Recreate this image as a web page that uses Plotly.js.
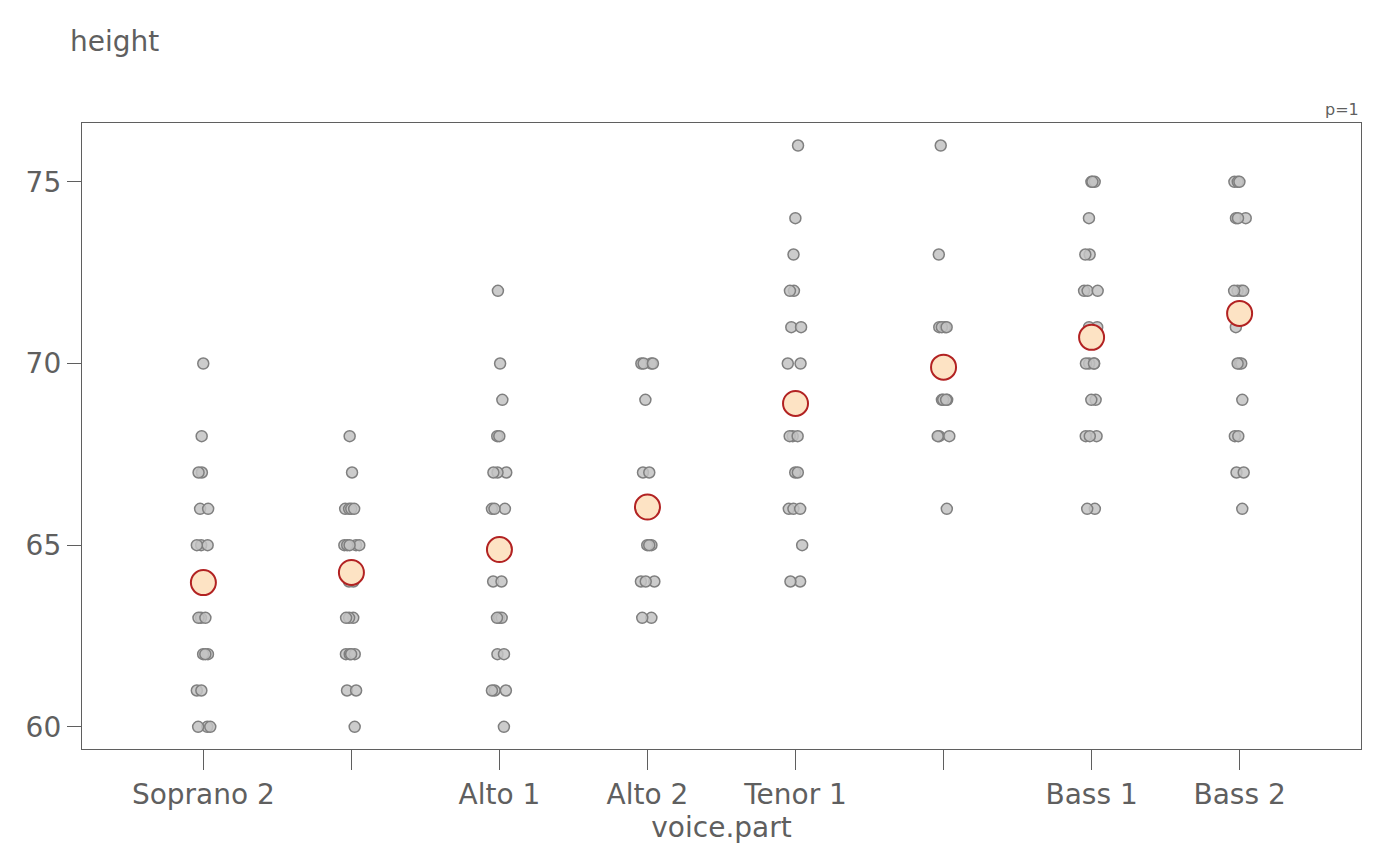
<!DOCTYPE html>
<html>
<head>
<meta charset="utf-8">
<script src="https://cdn.plot.ly/plotly-3.0.1.min.js"></script>
<style>body{margin:0;background:#fff}</style>
</head>
<body>
<div id="plot" style="width:1400px;height:866px"></div>
<script>
var groups = ['Soprano 2', 'Soprano 1', 'Alto 1', 'Alto 2', 'Tenor 1', 'Tenor 2', 'Bass 1', 'Bass 2'];
var tickLabels = ['Soprano 2', '', 'Alto 1', 'Alto 2', 'Tenor 1', '', 'Bass 1', 'Bass 2'];
var heights = [
    [70, 68, 67, 67, 66, 66, 65, 65, 65, 63, 63, 63, 62, 62, 62, 61, 61, 60, 60, 60],
    [68, 67, 66, 66, 66, 66, 65, 65, 65, 65, 65, 64, 64, 63, 63, 63, 62, 62, 62, 62, 61, 61, 60],
    [72, 70, 69, 68, 68, 67, 67, 67, 66, 66, 66, 65, 64, 64, 63, 63, 63, 62, 62, 61, 61, 61, 60],
    [70, 70, 70, 70, 69, 67, 67, 66, 65, 65, 65, 64, 64, 64, 63, 63],
    [76, 74, 73, 72, 72, 71, 71, 70, 70, 69, 68, 68, 68, 67, 67, 66, 66, 66, 65, 64, 64],
    [76, 73, 71, 71, 71, 71, 70, 69, 69, 69, 69, 68, 68, 68, 66],
    [75, 75, 75, 74, 73, 73, 72, 72, 72, 71, 71, 70, 70, 70, 70, 69, 69, 68, 68, 68, 66, 66],
    [75, 75, 75, 74, 74, 74, 72, 72, 72, 72, 71, 70, 70, 70, 69, 68, 68, 67, 67, 66]
];
var means = [63.97, 64.25, 64.88, 66.05, 68.9, 69.9, 70.72, 71.38];

var textColor = '#5f5f5f';
var traces = [];
heights.forEach(function (vals, i) {
    traces.push({
        type: 'box',
        x: vals.map(function () { return i; }),
        y: vals,
        boxpoints: 'all',
        jitter: 1,
        pointpos: 0,
        width: 0.12,
        fillcolor: 'rgba(0,0,0,0)',
        line: { width: 0, color: 'rgba(0,0,0,0)' },
        marker: { size: 11, color: 'rgba(195,195,195,0.85)', line: { color: '#7f7f7f', width: 1.5 } },
        hoverinfo: 'y',
        name: groups[i]
    });
});
traces.push({
    type: 'scatter',
    mode: 'markers',
    x: groups.map(function (g, i) { return i; }),
    y: means,
    marker: { size: 25, color: '#FDE3C4', line: { color: '#B22222', width: 2 } },
    hoverinfo: 'y'
});

var layout = {
    width: 1400,
    height: 866,
    showlegend: false,
    paper_bgcolor: '#fff',
    plot_bgcolor: '#fff',
    margin: { l: 82, r: 39, t: 123, b: 117 },
    font: { family: 'DejaVu Sans', color: textColor, size: 28 },
    xaxis: {
        range: [-0.82, 7.82],
        tickvals: groups.map(function (g, i) { return i; }),
        ticktext: tickLabels,
        ticks: 'outside', ticklen: 20, tickcolor: textColor,
        showgrid: false, zeroline: false,
        showline: true, mirror: true, linecolor: textColor, linewidth: 1.3,
        tickfont: { size: 28, color: textColor },
        title: { text: 'voice.part', font: { size: 28, color: textColor }, standoff: 0 }
    },
    yaxis: {
        range: [59.39, 76.62],
        tickvals: [60, 65, 70, 75],
        ticks: 'outside', ticklen: 14, tickcolor: textColor,
        showgrid: false, zeroline: false,
        showline: true, mirror: true, linecolor: textColor, linewidth: 1.3,
        tickfont: { size: 28, color: textColor }
    },
    annotations: [
        { text: 'height', xref: 'paper', yref: 'paper', x: -0.011, y: 1.1, xanchor: 'left', yanchor: 'bottom',
          showarrow: false, font: { size: 28, color: textColor } },
        { text: 'p=1', xref: 'paper', yref: 'paper', x: 1, y: 1.003, xanchor: 'right', yanchor: 'bottom',
          showarrow: false, font: { size: 16, color: textColor } }
    ]
};

Plotly.newPlot('plot', traces, layout, { displayModeBar: false });
</script>
</body>
</html>
